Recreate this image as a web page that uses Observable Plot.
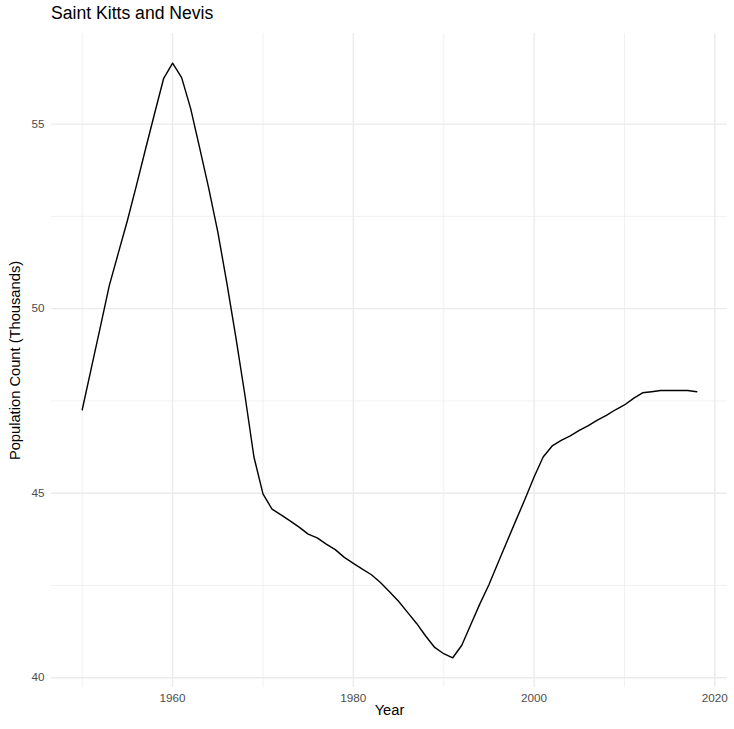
<!DOCTYPE html>
<html>
<head>
<meta charset="utf-8">
<script src="https://cdn.jsdelivr.net/npm/d3@7"></script>
<script src="https://cdn.jsdelivr.net/npm/@observablehq/plot@0.6"></script>
<style>
  html, body { margin: 0; padding: 0; background: #fff; }
  #title { box-sizing: border-box; height: 26px; padding-top: 5px; padding-left: 51px;
    font-family: "Liberation Sans", Arial, sans-serif; font-size: 17.6px; line-height: 17.6px; color: #000; }
</style>
</head>
<body>
<div id="title">Saint Kitts and Nevis</div>
<div id="chart"></div>
<script>
const titleText = "Saint Kitts and Nevis";
const xLabel = "Year";
const yLabel = "Population Count (Thousands)";

const years = d3.range(1950, 2019);
const population = [
  47.26, 48.38, 49.50, 50.63, 51.51, 52.39, 53.34, 54.32, 55.28, 56.23,
  56.65, 56.26, 55.42, 54.35, 53.26, 52.08, 50.70, 49.22, 47.66, 45.98,
  44.98, 44.57, 44.41, 44.25, 44.08, 43.89, 43.79, 43.62, 43.47, 43.26,
  43.10, 42.94, 42.79, 42.58, 42.33, 42.07, 41.77, 41.47, 41.13, 40.82,
  40.65, 40.54, 40.88, 41.44, 42.00, 42.52, 43.11, 43.69, 44.27, 44.84,
  45.44, 45.98, 46.28, 46.43, 46.55, 46.70, 46.83, 46.98, 47.11, 47.26,
  47.39, 47.57, 47.72, 47.75, 47.78, 47.78, 47.78, 47.78, 47.75
];

const xMajor = [1960, 1980, 2000, 2020];
const xMinor = [1950, 1970, 1990, 2010];
const yMajor = [40, 45, 50, 55];
const yMinor = [42.5, 47.5, 52.5];

const data = years.map((y, i) => ({year: y, value: population[i]}));

function expand(ext, f = 0.05) {
  const r = ext[1] - ext[0];
  return [ext[0] - r * f, ext[1] + r * f];
}

const font = "'Liberation Sans', Arial, sans-serif";
const grid = "#EBEBEB";

const chart = Plot.plot({
  width: 734,
  height: 703,
  marginLeft: 51,
  marginRight: 7,
  marginTop: 7,
  marginBottom: 42,
  style: {fontFamily: font, background: "#fff", color: "#000"},
  x: {domain: expand(d3.extent(years)), label: null},
  y: {domain: expand(d3.extent(population)), label: null},
  marks: [
    Plot.ruleX(xMinor, {stroke: grid, strokeWidth: 0.71}),
    Plot.ruleY(yMinor, {stroke: grid, strokeWidth: 0.71}),
    Plot.ruleX(xMajor, {stroke: grid, strokeWidth: 1.42}),
    Plot.ruleY(yMajor, {stroke: grid, strokeWidth: 1.42}),
    Plot.axisX({ticks: xMajor, tickSize: 0, tickPadding: 6, tickFormat: d => String(d), fontSize: 11.7, color: "#4D4D4D", label: null}),
    Plot.axisY({ticks: yMajor, tickSize: 0, tickPadding: 7, tickFormat: d => String(d), fontSize: 11.7, color: "#4D4D4D", label: null}),
    Plot.line(data, {x: "year", y: "value", stroke: "#000", strokeWidth: 1.42}),
    Plot.text([xLabel], {text: d => d, frameAnchor: "bottom", textAnchor: "middle", dy: 27, fontSize: 14.7, fill: "#000"}),
    Plot.text([yLabel], {text: d => d, frameAnchor: "left", textAnchor: "middle", dx: -36, rotate: -90, fontSize: 14.7, fill: "#000"})
  ]
});
document.getElementById("chart").appendChild(chart);
</script>
</body>
</html>
